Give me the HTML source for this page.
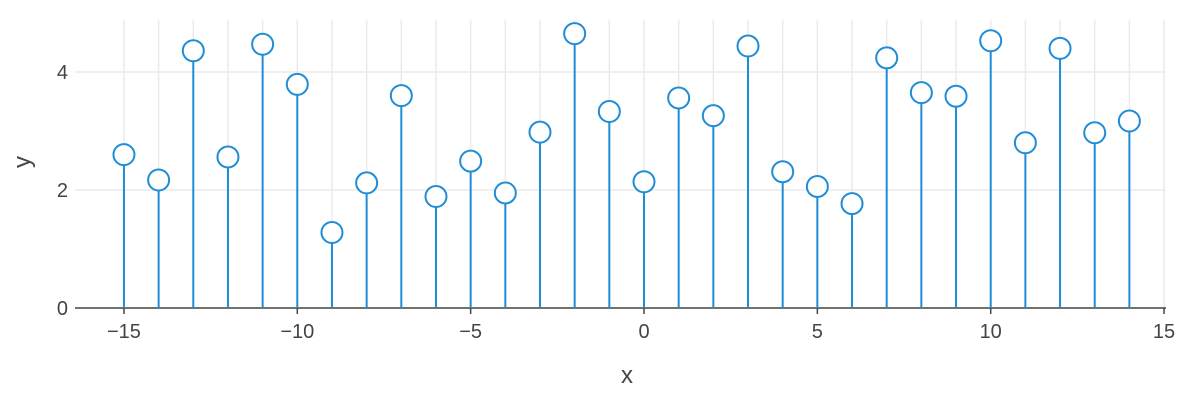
<!DOCTYPE html>
<html><head><meta charset="utf-8"><style>
body{margin:0;background:#fff;font-family:"Liberation Sans",sans-serif}
svg text{font-family:"Liberation Sans",sans-serif;fill:#444}
</style></head><body>
<svg id="c" width="1200" height="400"></svg>
<script>
const xs=[-15,-14,-13,-12,-11,-10,-9,-8,-7,-6,-5,-4,-3,-2,-1,0,1,2,3,4,5,6,7,8,9,10,11,12,13,14];
const ys=[2.6,2.17,4.36,2.56,4.47,3.79,1.28,2.12,3.6,1.89,2.49,1.95,2.98,4.65,3.33,2.14,3.56,3.26,4.44,2.31,2.06,1.77,4.24,3.65,3.59,4.53,2.8,4.4,2.97,3.17];
const xTicks=[-15,-10,-5,0,5,10,15];
const yTicks=[0,2,4];
const svg=document.getElementById('c');
const NS='http://www.w3.org/2000/svg';
const X=v=>644+v*34.67;
const Y=v=>308-v*59;
function mk(t,a,p){const e=document.createElementNS(NS,t);for(const k in a)e.setAttribute(k,a[k]);(p||svg).appendChild(e);return e;}
for(let v=-15;v<=15;v++){const g=mk('line',{x1:X(v),x2:X(v),y1:20,y2:308,stroke:'#ebebeb','stroke-width':1.5});

}
yTicks.forEach(v=>{if(v>0){const g=mk('line',{x1:75,x2:1166,y1:Y(v),y2:Y(v),stroke:'#ebebeb','stroke-width':1.5});

}
const t=mk('text',{x:68,y:Y(v)+7,'text-anchor':'end','font-size':20});t.textContent=v;

});
xTicks.forEach(v=>{const t=mk('text',{x:X(v),y:338,'text-anchor':'middle','font-size':20});t.textContent=(v<0?'\u2212'+(-v):v);


const k=mk('line',{x1:X(v),x2:X(v),y1:308,y2:314,stroke:'#444','stroke-width':1.5});

});
const ax=mk('line',{x1:75,x2:1166,y1:308,y2:308,stroke:'#444','stroke-width':1.5});


xs.forEach((x,i)=>{const l=mk('line',{x1:X(x),x2:X(x),y1:308,y2:Y(ys[i]),stroke:'#1f8dd6','stroke-width':2});

});
xs.forEach((x,i)=>{const c=mk('circle',{cx:X(x),cy:Y(ys[i]),r:10.5,fill:'#fff',stroke:'#1f8dd6','stroke-width':2});

});
const xl=mk('text',{x:627,y:383,'text-anchor':'middle','font-size':24});xl.textContent='x';


const yl=mk('text',{x:30,y:162,'text-anchor':'middle','font-size':24,transform:'rotate(-90 30 162)'});yl.textContent='y';


</script>
</body></html>
